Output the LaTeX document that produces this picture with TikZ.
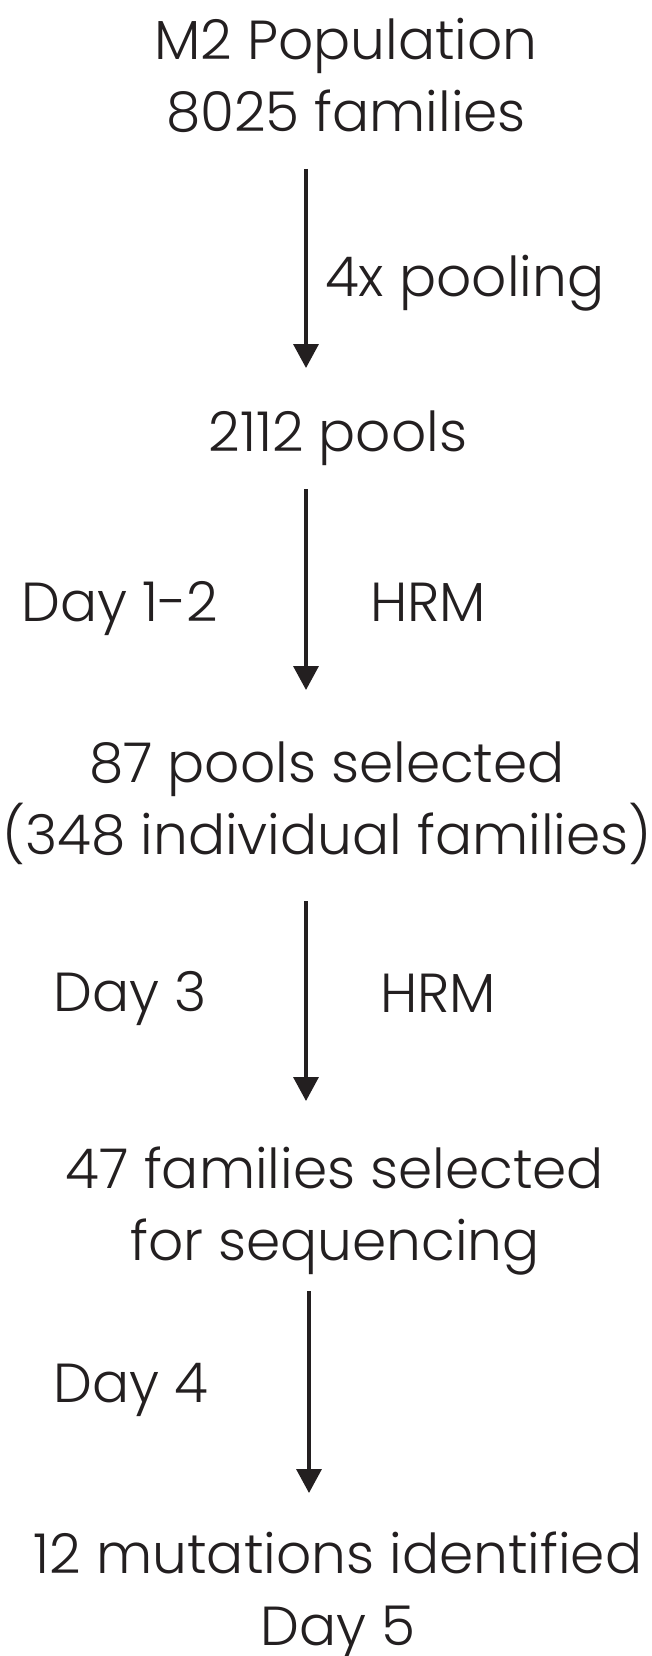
\documentclass[tikz,border=0pt]{standalone}
\usepackage{fontspec}
\setmainfont{Poppins}[UprightFont=* Light]
\usetikzlibrary{arrows.meta}
\definecolor{ink}{RGB}{35,31,32}

\begin{document}
\begin{tikzpicture}[x=1pt,y=-1pt,
  stage/.style={font=\fontsize{55}{72}\selectfont, text=ink, inner sep=0pt, anchor=base, align=center},
  side/.style={stage, anchor=base west},
  flow/.style={draw=ink, line width=3.5pt, -{Triangle[width=25pt,length=24pt]}}]
 		% Frame
 		\useasboundingbox (0,0) rectangle (652,1656);
 		
 		% Parameters
 		\def\ax{306}
 		
 		% Stages (base = last line)
 		\node[stage] (pop) at (346,132) {M2 Population\\8025 families};
 		\node[stage] (pools) at (338,451) {2112 pools};
 		\node[stage] (sel) at (327,854) {87 pools selected\\(348 individual families)};
 		\node[stage] (fam) at (335,1260) {47 families selected\\for sequencing};
 		\node[stage] (mut) at (338,1645) {12 mutations identified\\Day 5};
 		
 		% Arrow ends
 		\coordinate (s1) at (\ax,169);  \coordinate (e1) at (\ax,368);
 		\coordinate (s2) at (\ax,489);  \coordinate (e2) at (\ax,690);
 		\coordinate (s3) at (\ax,901);  \coordinate (e3) at (\ax,1101);
 		\coordinate (s4) at (309,1291); \coordinate (e4) at (309,1493);
 		
 		% Arrows
 		\draw[flow] (s1) -- (e1);
 		\draw[flow] (s2) -- (e2);
 		\draw[flow] (s3) -- (e3);
 		\draw[flow] (s4) -- (e4);
 		
 		% Labels
 		\node[side] (pool) at (325,296) {4x pooling};
 		\node[side] (d12) at (21,621) {Day 1-2};
 		\node[side] (hrm1) at (370,621) {HRM};
 		\node[side] (d3) at (53,1011) {Day 3};
 		\node[side] (hrm2) at (380,1012) {HRM};
 		\node[side] (d4) at (53,1402) {Day 4};
 		
\end{tikzpicture}
\end{document}
